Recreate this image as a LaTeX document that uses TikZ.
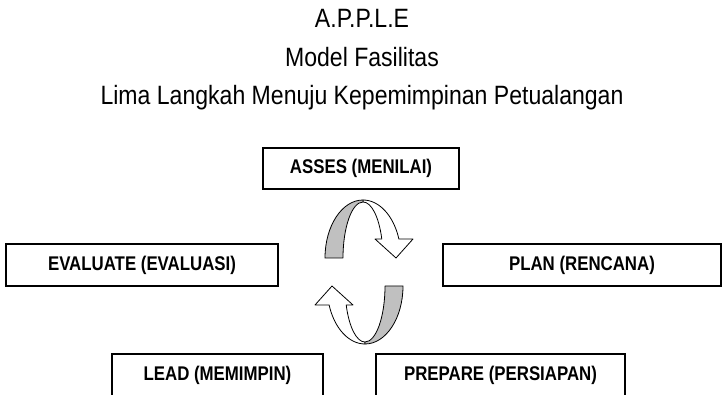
\documentclass[tikz,border=0pt]{standalone}
\usepackage{fontspec}
\usepackage{graphicx}
\setmainfont{Liberation Sans}
\definecolor{bandgray}{RGB}{192,192,192}
% condensed lettering
\newcommand\headtext[1]{\scalebox{0.87}[1]{#1}}
\newcommand\stagetext[1]{\scalebox{0.85}[1]{#1}}
\begin{document}
\begin{tikzpicture}[x=1pt,y=-1pt,
  heading/.style={anchor=base, inner sep=0pt, font=\fontsize{26.5}{30}\selectfont},
  stage/.style={draw, line width=1.4pt, rectangle, inner sep=0pt,
    font=\fontsize{19.8}{22}\selectfont\bfseries},
  band/.style={draw, line width=0.8pt, line join=round},
  turnarrow/.pic={
    % front face of the half turn, ending in the arrow head
    \path[band, fill=white] (0,-58)
      arc[start angle=270, end angle=340.9, x radius=38, y radius=58]
      -- (50,-19) -- (33,0) -- (12,-19) -- (18.8,-19)
      arc[start angle=340.2, end angle=270, x radius=20, y radius=56] -- cycle;
    % shaded back face
    \path[band, fill=bandgray] (-38,0)
      arc[start angle=180, end angle=270, x radius=38, y radius=58]
      -- (0,-56)
      arc[start angle=270, end angle=180, x radius=20, y radius=56] -- cycle;
  }]
\useasboundingbox (0,0) rectangle (723,395);
\clip (0,0) rectangle (723,395);

% heading
\node[heading] (t1) at (362,28) {\headtext{A.P.P.L.E}};
\node[heading] (t2) at (362,67) {\headtext{Model Fasilitas}};
\node[heading] (t3) at (362,105) {\headtext{Lima Langkah Menuju Kepemimpinan Petualangan}};

% the five steps
\node[stage, minimum width=196pt, minimum height=41pt] (asses) at (361,168.5) {\stagetext{ASSES (MENILAI)}};
\node[stage, minimum width=272pt, minimum height=42pt] (evaluate) at (142,265) {\stagetext{EVALUATE (EVALUASI)}};
\node[stage, minimum width=278pt, minimum height=42pt] (plan) at (582,265) {\stagetext{PLAN (RENCANA)}};
\node[stage, minimum width=211pt, minimum height=42pt] (lead) at (217.5,375) {\stagetext{LEAD (MEMIMPIN)}};
\node[stage, minimum width=249pt, minimum height=42pt] (prepare) at (500.5,375) {\stagetext{PREPARE (PERSIAPAN)}};

% cycle arrows
\pic at (363,258) {turnarrow};
\pic[rotate=180] at (365,286) {turnarrow};
\end{tikzpicture}
\end{document}
